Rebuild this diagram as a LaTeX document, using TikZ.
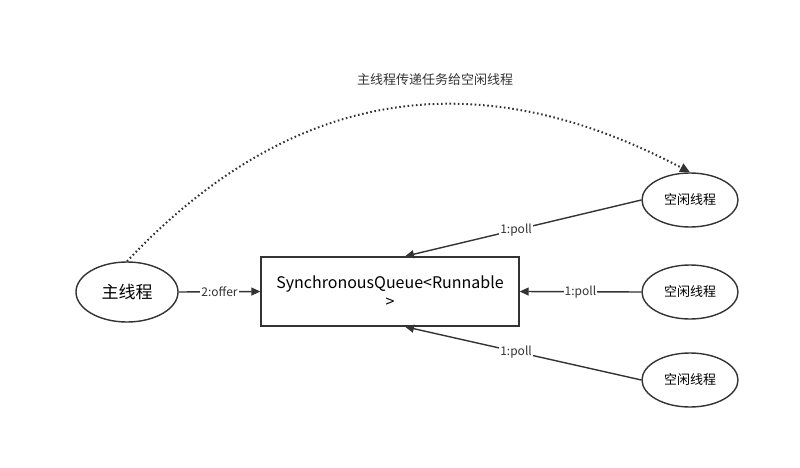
\documentclass[tikz,border=0pt]{standalone}
\usepackage{fontspec}
\setmainfont{Noto Sans CJK SC}
\usetikzlibrary{positioning,arrows.meta,shapes,calc}
\definecolor{ink}{HTML}{333333}

\begin{document}
\begin{tikzpicture}[x=1pt,y=-1pt,
      line width=1.4pt,
      thread/.style={draw=ink,ellipse,inner sep=0pt,minimum width=96pt,minimum height=54pt,font=\fontsize{13}{15}\selectfont},
      queue/.style={draw=ink,minimum width=258pt,minimum height=69pt,align=center,font=\fontsize{16}{19}\selectfont},
      pull/.style={draw=ink,-{Triangle[length=9pt,width=8pt]}},
      lbl/.style={fill=white,inner sep=1pt,text=ink,font=\fontsize{12}{14}\selectfont}]

    \useasboundingbox (0,0) rectangle (800,468);

    \node[thread,minimum width=102pt,minimum height=60pt,font=\fontsize{17}{19}\selectfont] (main) at (127,292) {主线程};
    \node[queue] (sq) at (390,291.5) {SynchronousQueue<Runnable\\>};
    \node[thread] (idle1) at (690,200) {空闲线程};
    \node[thread] (idle2) at (690,292) {空闲线程};
    \node[thread] (idle3) at (690,380) {空闲线程};

    \node[text=ink,font=\fontsize{13}{15}\selectfont] (title) at (435,80) {主线程传递任务给空闲线程};

    % hand-off from the main thread
    \draw[draw=ink,line width=2pt,dash pattern=on 1.6pt off 2.6pt,-{Triangle[length=10pt,width=9pt]}]
      (main.north) .. controls (260,120) and (440,40) .. (idle1.north);

    \draw[pull] (main.east) -- (sq.west) node[midway,lbl] {2:offer};

    % idle threads polling the queue
    \draw[pull] (idle1.west) -- ([xshift=15pt]sq.north) node[pos=0.53,lbl] {1:poll};
    \draw[pull] (idle2.west) -- (sq.east) node[midway,lbl] {1:poll};
    \draw[pull] (idle3.west) -- ([xshift=15pt]sq.south) node[pos=0.53,lbl] {1:poll};
  \end{tikzpicture}
\end{document}
